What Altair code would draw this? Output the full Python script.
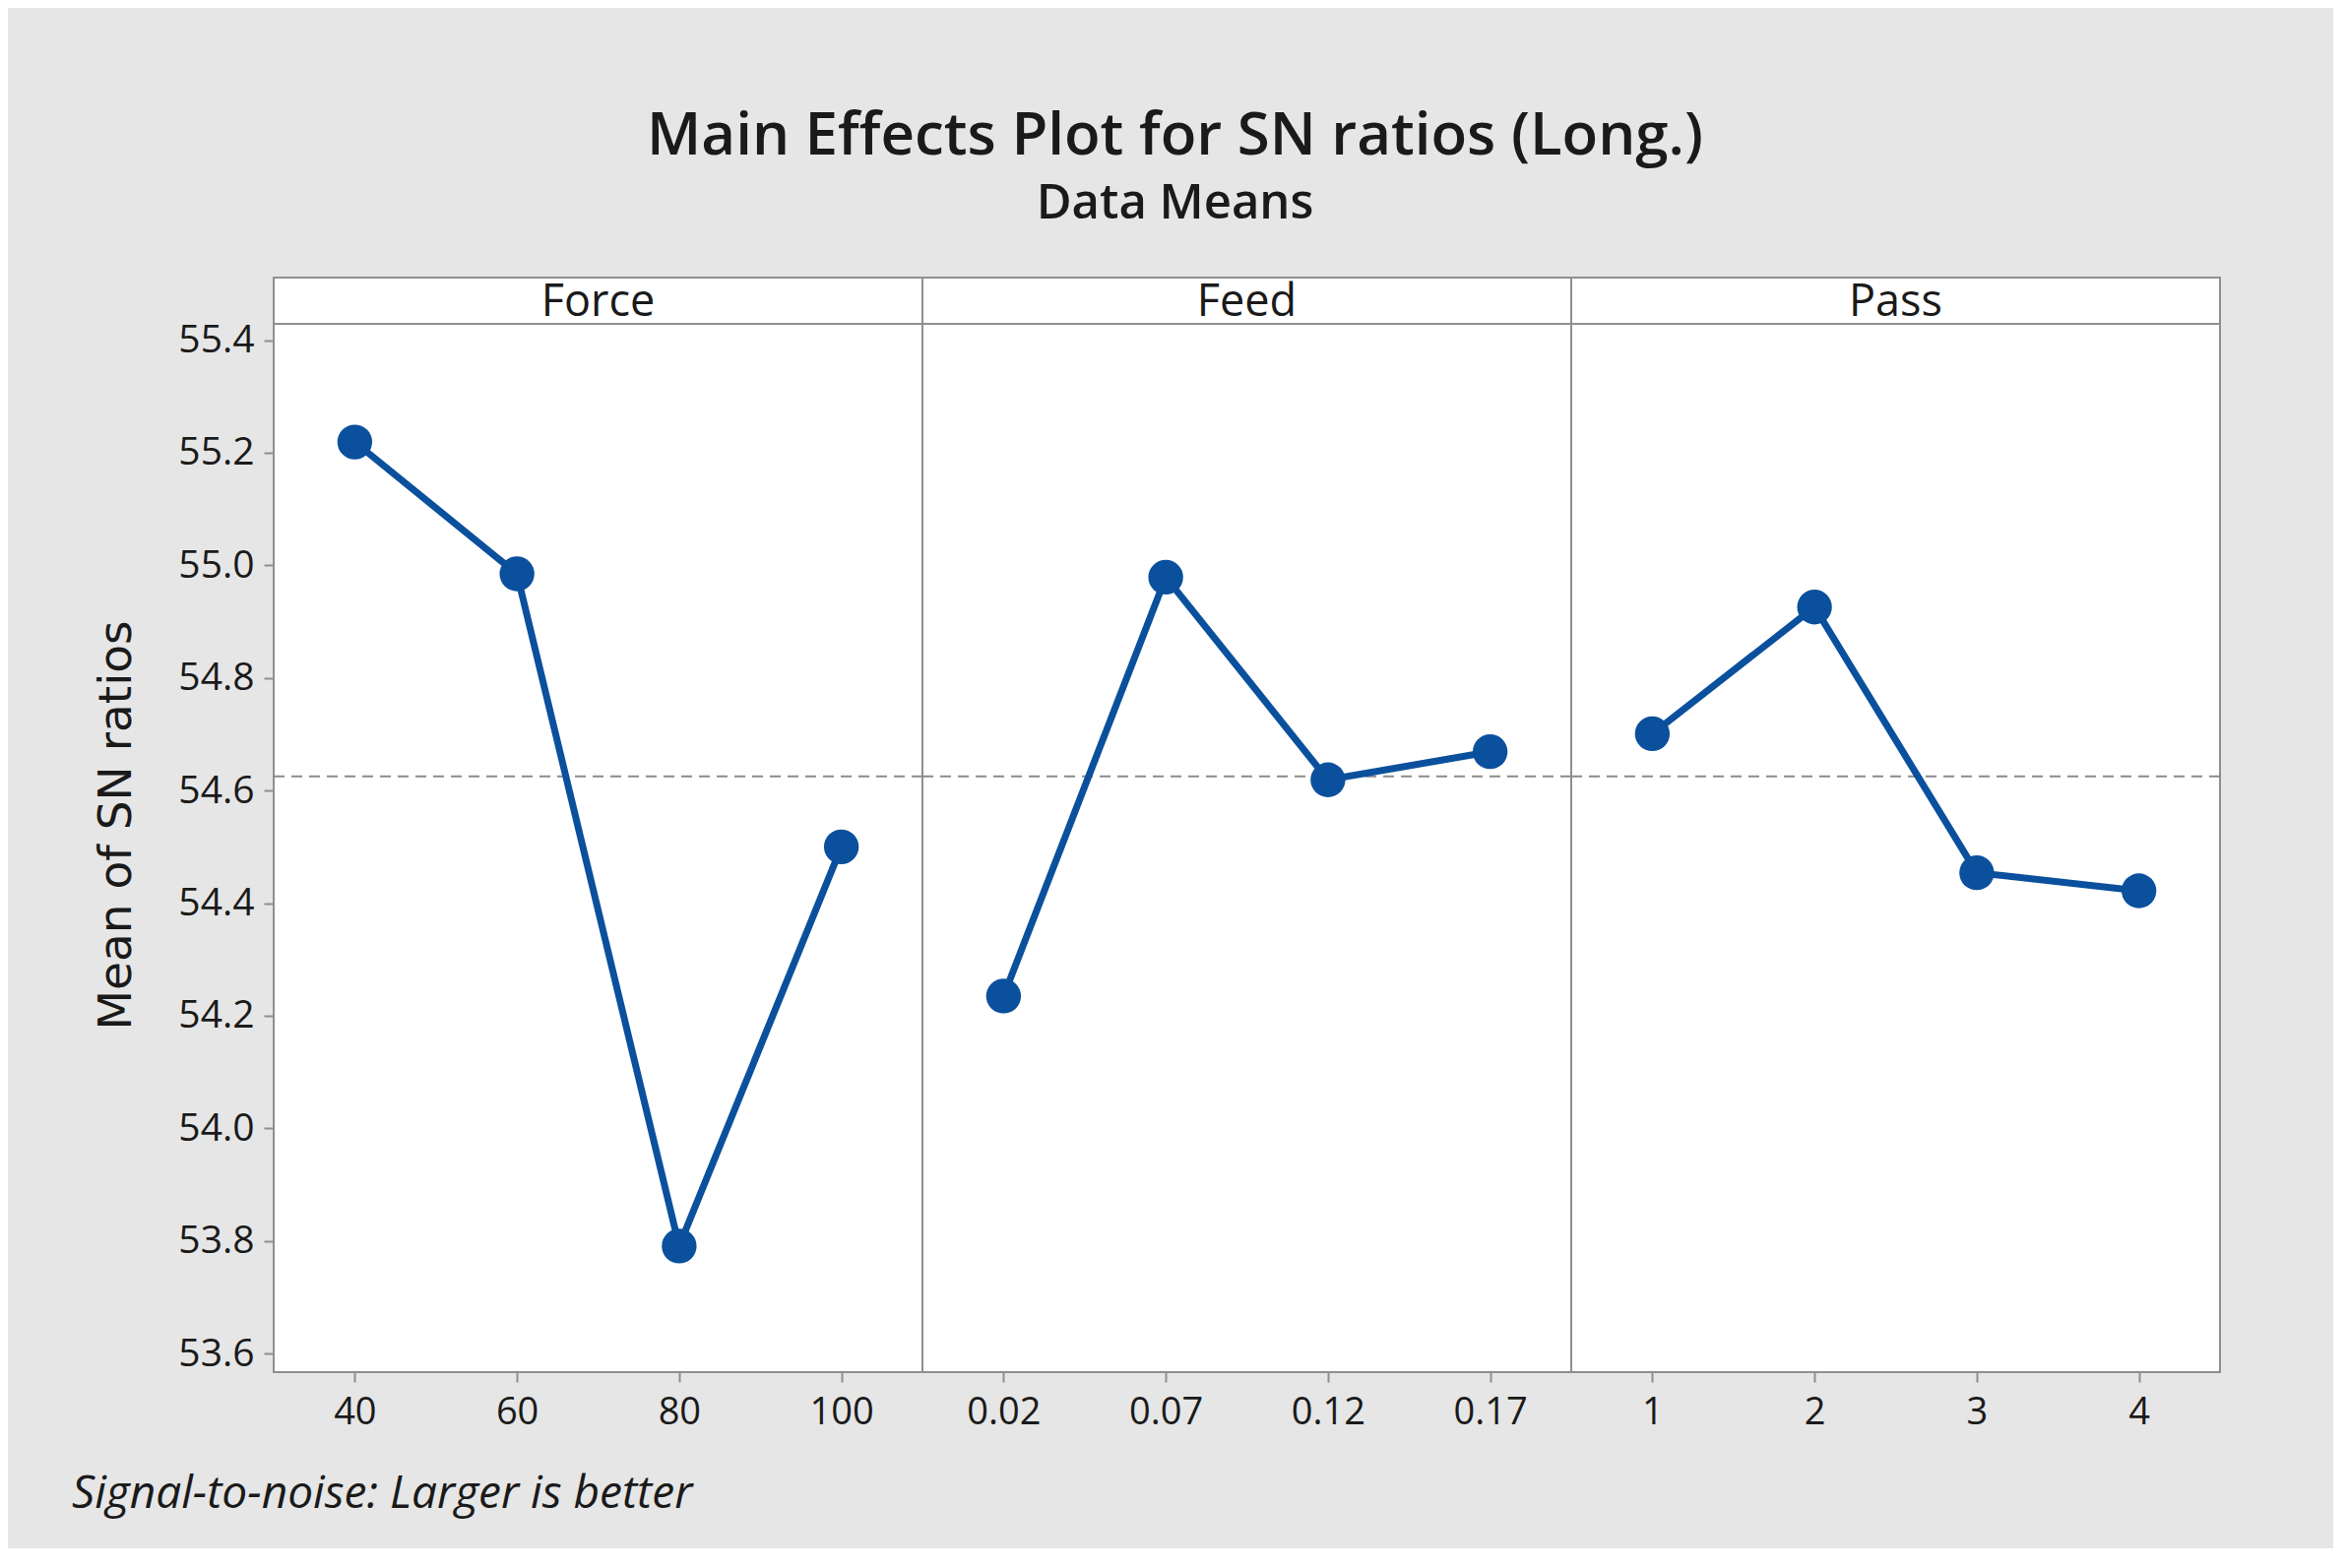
import altair as alt
import pandas as pd

# ---------------- data ----------------
factors = ["Force", "Feed", "Pass"]
force_levels = ["40", "60", "80", "100"]
force_sn = [55.219, 54.985, 53.791, 54.500]
feed_levels = ["0.02", "0.07", "0.12", "0.17"]
feed_sn = [54.235, 54.979, 54.619, 54.669]
pass_levels = ["1", "2", "3", "4"]
pass_sn = [54.701, 54.926, 54.454, 54.422]
y_tick_values = [53.6, 53.8, 54.0, 54.2, 54.4, 54.6, 54.8, 55.0, 55.2, 55.4]

title_text = "Main Effects Plot for SN ratios (Long.)"
subtitle_text = "Data Means"
y_title = "Mean of SN ratios"
footer_text = "Signal-to-noise: Larger is better"

rows = []
for fac, levels, vals in zip(factors, [force_levels, feed_levels, pass_levels],
                             [force_sn, feed_sn, pass_sn]):
    for i, (lev, v) in enumerate(zip(levels, vals)):
        rows.append({"factor": fac, "level": lev, "order": i, "sn": v})
df = pd.DataFrame(rows)
df["grand_mean"] = df["sn"].mean()

# ---------------- layout / style ----------------
BLUE = "#0A509D"
GRID = "#8f8f8f"
TXT = "#1a1a1a"
FONT = "Open Sans"

CELL_W = 659
STRIP_H = 47
DATA_H = 1065
CELL_H = STRIP_H + DATA_H
Y_LO, Y_HI = 53.567, 55.429
Y_TOP = Y_HI + (Y_HI - Y_LO) * STRIP_H / DATA_H

x_enc = alt.X(
    "level:N",
    sort=alt.EncodingSortField(field="order", op="min"),
    scale=alt.Scale(type="point", padding=0.5),
    axis=alt.Axis(title=None, labelAngle=0, labelFont=FONT, labelFontSize=38,
                  labelColor=TXT, tickColor=GRID, tickSize=10, tickWidth=2,
                  labelPadding=12, domain=False, grid=False),
)


def y_enc(field):
    return alt.Y(
        field,
        scale=alt.Scale(domain=[Y_LO, Y_TOP], nice=False, zero=False),
        axis=alt.Axis(title=y_title, values=y_tick_values, format=".1f",
                      labelFont=FONT, labelFontSize=39, labelColor=TXT,
                      tickColor=GRID, tickSize=10, tickWidth=2, labelPadding=10,
                      domain=False, grid=False,
                      titleFont="DejaVu Sans", titleFontSize=47,
                      titleFontWeight="normal", titleColor=TXT, titlePadding=38),
    )


base = alt.Chart()
first = alt.datum.order == 0

mean_rule = base.mark_rule(color="#8a8a8a", strokeWidth=2, strokeDash=[11, 7]).encode(
    y=y_enc("grand_mean:Q")
).transform_filter(first)

line = base.mark_line(color=BLUE, strokeWidth=7).encode(
    x=x_enc, y=y_enc("sn:Q"), order="order:Q"
)

points = base.mark_circle(color=BLUE, opacity=1, size=1250).encode(
    x=x_enc, y=y_enc("sn:Q")
)

strip_rule = base.mark_rule(color=GRID, strokeWidth=2).encode(
    x=alt.value(0), x2=alt.value(CELL_W), y=alt.value(STRIP_H)
).transform_filter(first)

strip_text = base.mark_text(font=FONT, fontSize=45, color=TXT, baseline="middle",
                            align="center").encode(
    x=alt.value(CELL_W / 2), y=alt.value(STRIP_H / 2 + 1), text="factor:N"
).transform_filter(first)

footer = base.mark_text(font=FONT, fontSize=46, fontStyle="italic", color=TXT,
                        align="left", baseline="middle").encode(
    x=alt.value(-205), y=alt.value(CELL_H + 124), text=alt.value(footer_text)
).transform_filter(first).transform_filter(alt.datum.factor == "Force")

layered = alt.layer(mean_rule, line, points, strip_rule, strip_text, footer).properties(
    width=CELL_W, height=CELL_H
)

chart = layered.facet(
    column=alt.Column("factor:N", sort=factors,
                      header=alt.Header(title=None, labels=False)),
    data=df,
    spacing=0,
    bounds="flush",
).resolve_scale(x="independent").properties(
    title=alt.TitleParams(
        text=title_text, subtitle=subtitle_text,
        font=FONT, fontSize=60, fontWeight=600, color=TXT,
        subtitleFont=FONT, subtitleFontSize=49, subtitleFontWeight=600,
        subtitleColor=TXT, subtitlePadding=13,
        anchor="middle", frame="bounds", offset=48, dx=29,
    ),
    background="#e6e6e6",
    padding={"left": 64, "top": 101, "right": 113, "bottom": 31},
).configure_view(stroke=GRID, strokeWidth=2, fill="white")

chart.save("out.html", embed_options={"renderer": "svg", "actions": False})
